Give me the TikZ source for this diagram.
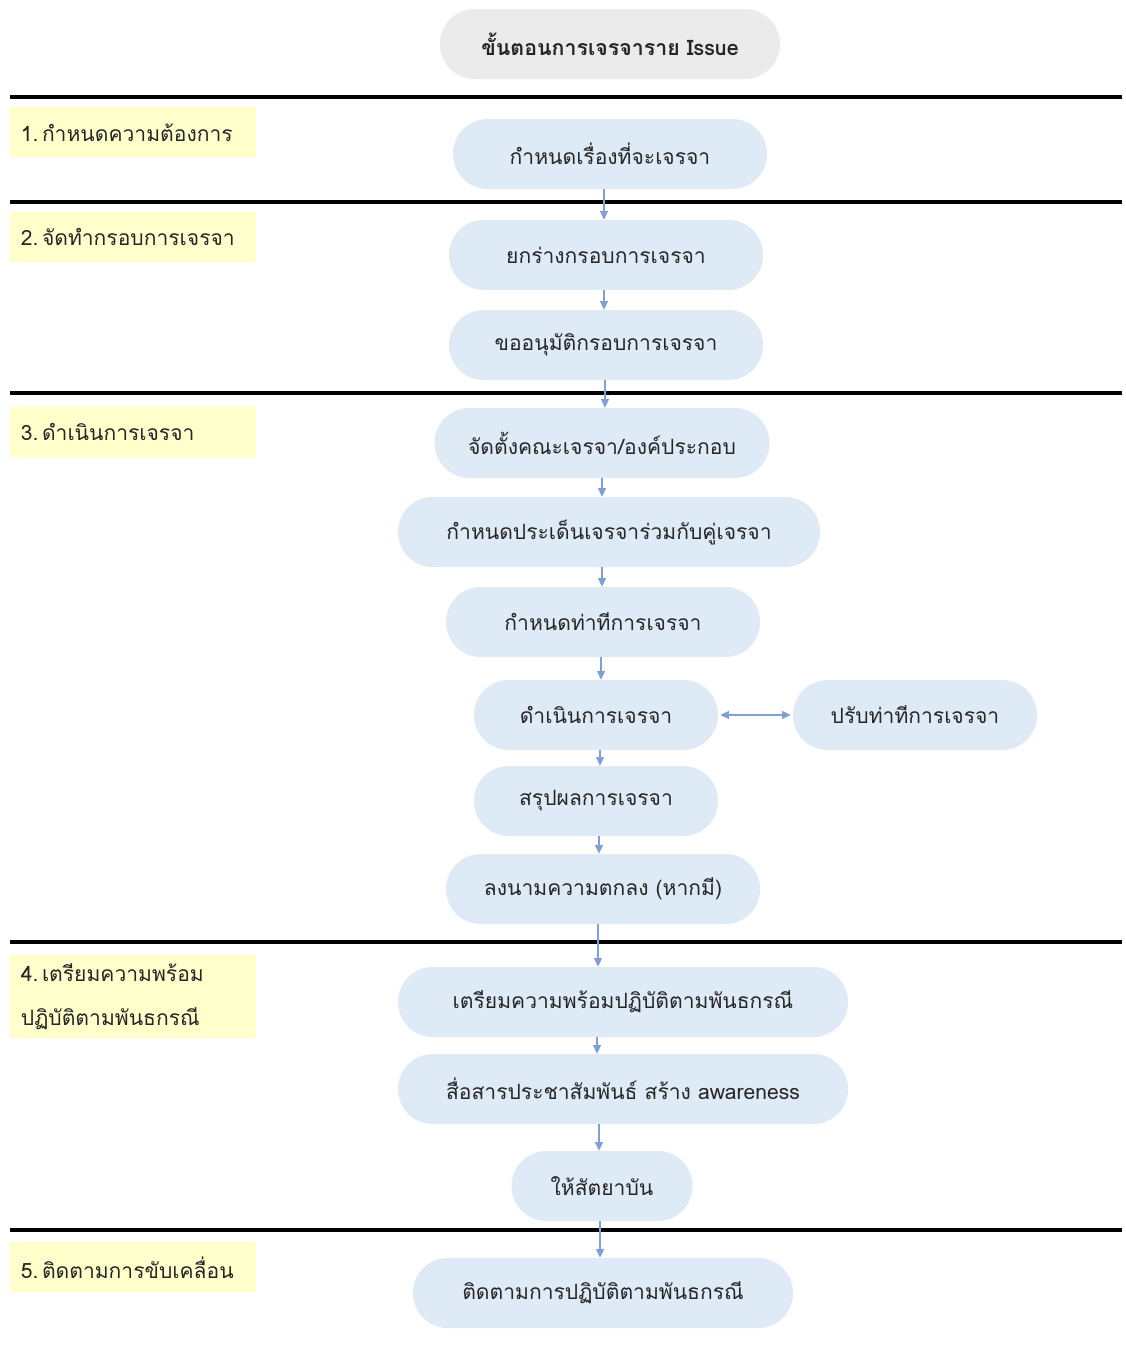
\documentclass[tikz,border=0pt]{standalone}
\usepackage{fontspec}
\setmainfont[Script=Thai]{Loma}
\usetikzlibrary{arrows.meta}
\definecolor{pillc}{HTML}{DEEAF6}
\definecolor{labc}{HTML}{FFFFCC}
\definecolor{titc}{HTML}{EBEBEB}
\definecolor{arrc}{HTML}{7F9FD6}
\definecolor{txt}{HTML}{262626}
\begin{document}
\begin{tikzpicture}[x=0.75pt,y=-0.75pt,
 pill/.style={fill=pillc, rounded corners=26pt, minimum height=52.5pt, minimum width=#1*0.75pt, inner sep=0pt, font=\fontsize{15.8}{19}\selectfont, text=txt},
 lab/.style={fill=labc, anchor=north west, minimum width=183.75pt, minimum height=#1*0.75pt, text width=168pt, inner xsep=8pt, inner ysep=0pt, align=left, font=\fontsize{15.8}{33}\selectfont, text=txt},
 sepline/.style={line width=2.6pt, black},
 arr/.style={draw=arrc, line width=0.8pt, -{Triangle[length=6.5pt,width=6pt]}},
 darr/.style={draw=arrc, line width=0.8pt, {Triangle[length=6.5pt,width=6pt]}-{Triangle[length=6.5pt,width=6pt]}}]
\useasboundingbox (0,0) rectangle (1126,1346);
% title
\node[fill=titc, rounded corners=26pt, minimum width=255pt, minimum height=52.5pt, font=\bfseries\fontsize{16}{19}\selectfont, text=txt] (title) at (610,44) {ขั้นตอนการเจรจาราย Issue};
% separators
\foreach \yy in {97,202,393,942,1230} \draw[sepline] (10,\yy) -- (1122,\yy);
% labels
\node[lab=50] (l1) at (10,107) {1.\,กำหนดความต้องการ};
\node[lab=50] (l2) at (10,212) {2.\,จัดทำกรอบการเจรจา};
\node[lab=50] (l3) at (10,407) {3.\,ดำเนินการเจรจา};
\node[lab=83] (l4) at (10,955) {4.\,เตรียมความพร้อม\\ปฏิบัติตามพันธกรณี};
\node[lab=50] (l5) at (10,1242) {5.\,ติดตามการขับเคลื่อน};
% pills
\node[pill=314] (a) at (610,154) {กำหนดเรื่องที่จะเจรจา};
\node[pill=314] (b) at (606,255) {ยกร่างกรอบการเจรจา};
\node[pill=314] (c) at (606,345) {ขออนุมัติกรอบการเจรจา};
\node[pill=335] (d) at (602,443) {จัดตั้งคณะเจรจา/องค์ประกอบ};
\node[pill=422] (e) at (609,532) {กำหนดประเด็นเจรจาร่วมกับคู่เจรจา};
\node[pill=314] (f) at (603,622) {กำหนดท่าทีการเจรจา};
\node[pill=244] (g) at (596,715) {ดำเนินการเจรจา};
\node[pill=244] (h) at (915,715) {ปรับท่าทีการเจรจา};
\node[pill=244] (i) at (596,801) {สรุปผลการเจรจา};
\node[pill=314] (j) at (603,889) {ลงนามความตกลง (หากมี)};
\node[pill=450] (k) at (623,1002) {เตรียมความพร้อมปฏิบัติตามพันธกรณี};
\node[pill=450] (l) at (623,1089) {สื่อสารประชาสัมพันธ์ สร้าง awareness};
\node[pill=181] (m) at (602,1186) {ให้สัตยาบัน};
\node[pill=380] (n) at (603,1293) {ติดตามการปฏิบัติตามพันธกรณี};
% arrows
\coordinate (pa) at (604,0);
\draw[arr] (a.south -| pa) -- (b.north -| pa);
\draw[arr] (b.south -| pa) -- (c.north -| pa);
\coordinate (pc) at (605,0);
\draw[arr] (c.south -| pc) -- (d.north -| pc);
\coordinate (pd) at (602,0);
\draw[arr] (d.south -| pd) -- (e.north -| pd);
\draw[arr] (e.south -| pd) -- (f.north -| pd);
\coordinate (pf) at (601,0);
\draw[arr] (f.south -| pf) -- (g.north -| pf);
\coordinate (pg) at (600,0);
\draw[arr] (g.south -| pg) -- (i.north -| pg);
\coordinate (pi) at (599,0);
\draw[arr] (i.south -| pi) -- (j.north -| pi);
\coordinate (pj) at (598,0);
\draw[arr] (j.south -| pj) -- (k.north -| pj);
\coordinate (pk) at (597,0);
\draw[arr] (k.south -| pk) -- (l.north -| pk);
\coordinate (pl) at (599,0);
\draw[arr] (l.south -| pl) -- (m.north -| pl);
\coordinate (pm) at (600,0);
\draw[arr] (m.south -| pm) -- (n.north -| pm);
\draw[darr] ([xshift=1.5pt]g.east) -- ([xshift=-1.5pt]h.west);
\end{tikzpicture}
\end{document}
